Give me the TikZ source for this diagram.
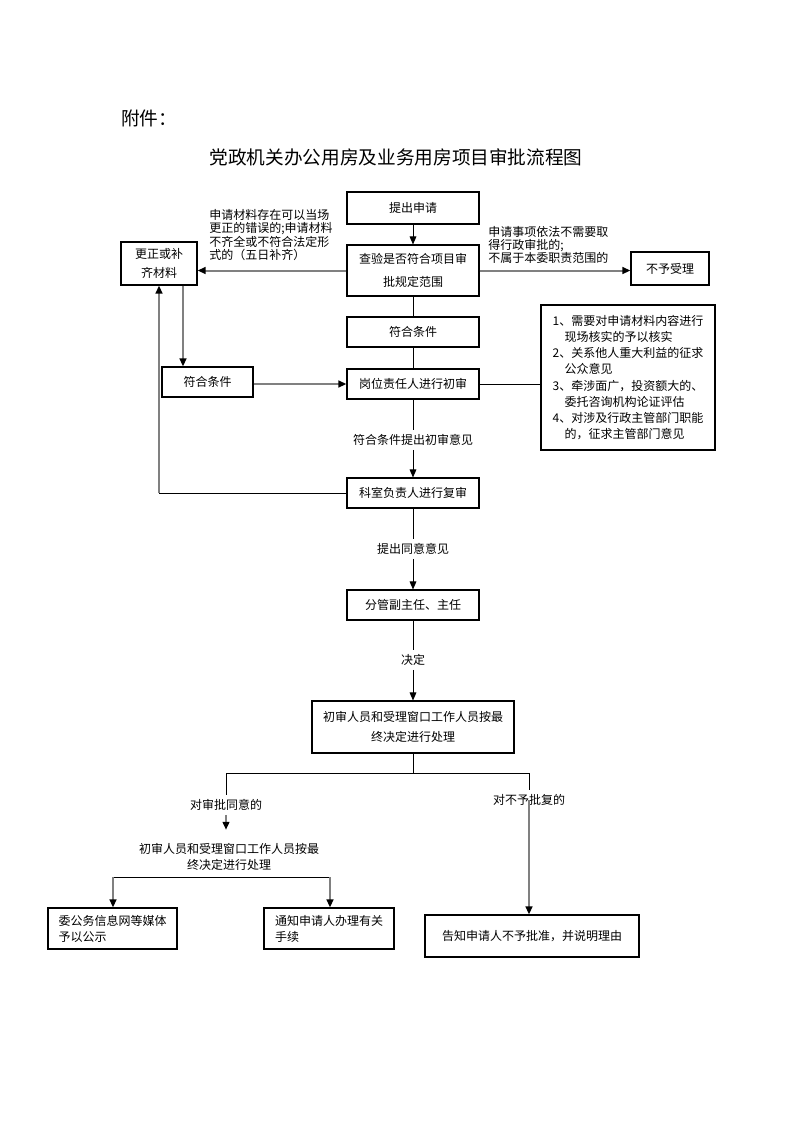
\documentclass[tikz,border=0pt]{standalone}
\usepackage{fontspec}
\setmainfont{Noto Sans CJK SC}
\usetikzlibrary{arrows.meta}
\begin{document}
\begin{tikzpicture}[x=0.75pt,y=-0.75pt,
  every node/.style={font=\fontsize{9pt}{12pt}\selectfont, inner sep=0pt},
  wh/.style 2 args={minimum width=#1*0.75pt, minimum height=#2*0.75pt},
  box/.style={draw, line width=0.8pt, align=center},
  bline/.style={draw, line width=0.75pt},
  gline/.style={draw=black!50, line width=1.5pt},
  tip/.style={-{Triangle[length=6pt,width=5pt,black]}},
  lbl/.style={fill=white, inner xsep=2pt, inner ysep=3pt},
]
\path[use as bounding box, fill=white] (0,0) rectangle (793,1122);

% headings
\node[anchor=west, font=\fontsize{14pt}{16pt}\selectfont] (att) at (121,118) {附件：};
\node[font=\fontsize{14pt}{16pt}\selectfont] (title) at (396,157) {党政机关办公用房及业务用房项目审批流程图};

% boxes
\node[box, wh={132}{32}] (apply) at (413,208) {提出申请};
\node[box, wh={132}{51}, font=\fontsize{9pt}{17pt}\selectfont] (check) at (413,270.5) {查验是否符合项目审\\批规定范围};
\node[box, wh={76}{43}, font=\fontsize{9pt}{14pt}\selectfont] (fix) at (159,263.5) {更正或补\\齐材料};
\node[box, wh={78}{33}] (reject) at (670,268.5) {不予受理};
\node[box, wh={132}{30}] (ok1) at (413,332) {符合条件};
\node[box, wh={132}{30}] (first) at (413,384) {岗位责任人进行初审};
\node[box, wh={91}{30}] (ok2) at (207.5,382) {符合条件};
\node[box, wh={174}{145}, align=left, font=\fontsize{9pt}{12.15pt}\selectfont] (notes) at (628,377.5)
  {1、需要对申请材料内容进行\\\hspace*{1em}现场核实的予以核实\\2、关系他人重大利益的征求\\\hspace*{1em}公众意见\\3、牵涉面广，投资额大的、\\\hspace*{1em}委托咨询机构论证评估\\4、对涉及行政主管部门职能\\\hspace*{1em}的，征求主管部门意见};
\node[box, wh={132}{30}] (second) at (413,493) {科室负责人进行复审};
\node[box, wh={132}{30}] (leader) at (413,605) {分管副主任、主任};
\node[box, wh={202}{52}, font=\fontsize{9pt}{15pt}\selectfont] (final) at (413,727) {初审人员和受理窗口工作人员按最\\终决定进行处理};
\node[box, wh={129}{41}, align=left] (pub) at (112.5,928.5) {委公务信息网等媒体\\予以公示};
\node[box, wh={130}{41}, align=left] (notify) at (329,928.5) {通知申请人办理有关\\手续};
\node[box, wh={214}{42}] (deny) at (532,936) {告知申请人不予批准，并说明理由};

% labels
\node[anchor=west, align=left, font=\fontsize{9pt}{10pt}\selectfont] (lblL) at (209,235) {申请材料存在可以当场\\更正的错误的;申请材料\\不齐全或不符合法定形\\式的（五日补齐）};
\node[anchor=west, align=left, font=\fontsize{9pt}{9.75pt}\selectfont] (lblR) at (488,245) {申请事项依法不需要取\\得行政审批的;\\不属于本委职责范围的};
\node[lbl] (l1) at (413,440) {符合条件提出初审意见};
\node[lbl] (l2) at (413,549) {提出同意意见};
\node[lbl] (l3) at (413,660) {决定};
\node[lbl] (l4) at (226,805) {对审批同意的};
\node[inner ysep=3pt] (l5) at (529,800) {对不予批复的};
\node[align=center] (proc) at (229,857) {初审人员和受理窗口工作人员按最\\终决定进行处理};

% junction coordinates
\coordinate (jL) at (226,773);
\coordinate (jR) at (529,773);
\coordinate (hL) at (113,877);
\coordinate (hR) at (330,877);
\coordinate (cornerL) at (fix.south |- second.west);

% connectors
\draw[bline, tip] (apply) -- (check);
\draw[gline, tip] (check.west) -- (check.west -| fix.east);
\draw[gline, tip] (check.east) -- (check.east -| reject.west);
\draw[bline] (check) -- (ok1);
\draw[bline] (ok1) -- (first);
\draw[gline, tip] ([xshift=18pt]fix.south) -- ([xshift=18pt]fix.south |- ok2.north);
\draw[bline] (second.west) -- (cornerL);
\draw[gline, tip] (cornerL) -- (fix.south);
\draw[gline, tip] (first.west -| ok2.east) -- (first.west);
\draw[bline] (first.east) -- (first.east -| notes.west);
\draw[bline] (first) -- (l1);
\draw[bline, tip] (l1) -- (second);
\draw[bline] (second) -- (l2);
\draw[bline, tip] (l2) -- (leader);
\draw[bline] (leader) -- (l3);
\draw[bline, tip] (l3) -- (final);
\draw[bline] (final.south) -- (final.south |- jL);
\draw[bline] (jL) -- (jR);
\draw[bline] (jL) -- (l4);
\draw[gline, tip, shorten >=10pt] (l4) -- (l4 |- proc.north);
\draw[bline] (hL) -- (hR);
\draw[gline, tip] (hL) -- (hL |- pub.north);
\draw[gline, tip] (hR) -- (hR |- notify.north);
\draw[bline] (jR) -- (l5);
\draw[gline, tip] (l5.center) -- (l5.center |- deny.north);
\end{tikzpicture}
\end{document}
